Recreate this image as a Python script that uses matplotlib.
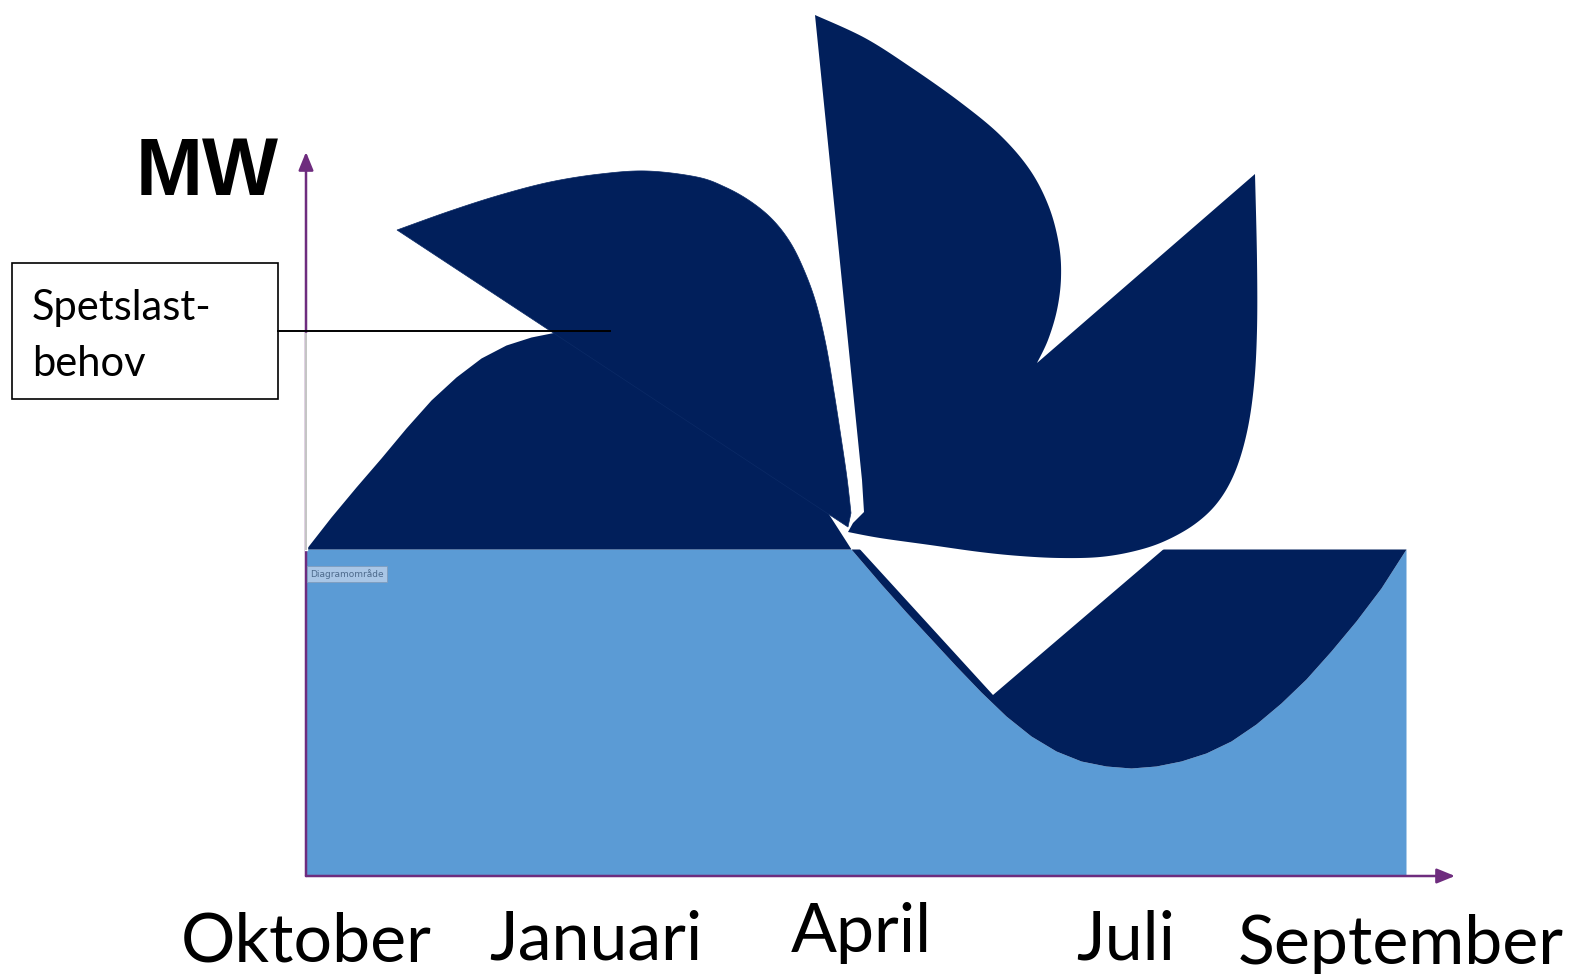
import numpy as np
import matplotlib.pyplot as plt
from matplotlib.patches import Polygon, Rectangle
from matplotlib.transforms import blended_transform_factory

# seasonal demand (months after start of October, MW in chart units)
months = [0.0, 0.25, 0.5, 0.75, 1.0, 1.25, 1.5, 1.75, 2.0, 2.25, 2.5, 2.75,
          3.0, 3.25, 3.5, 3.75, 4.0, 4.25, 4.5, 4.75, 5.0, 5.2, 5.45,
          5.75, 6.0, 6.25, 6.5, 6.75, 7.0, 7.25, 7.5, 7.75, 8.0, 8.25,
          8.5, 8.75, 9.0, 9.25, 9.5, 9.75, 10.0, 10.25, 10.5, 10.75, 11.0]
demand = [3.27, 3.59, 3.89, 4.18, 4.48, 4.76, 4.99, 5.18, 5.31, 5.39, 5.44, 5.48,
          5.50, 5.50, 5.47, 5.38, 5.22, 5.00, 4.72, 4.38, 3.99, 3.66, 3.27,
          2.92, 2.64, 2.37, 2.10, 1.84, 1.60, 1.40, 1.25, 1.15, 1.10, 1.08,
          1.10, 1.15, 1.23, 1.35, 1.52, 1.73, 1.97, 2.25, 2.55, 2.88, 3.27]
base_load = 3.27

month_labels = ["Oktober", "Januari", "April", "Juli", "September"]
label_pos = [0.0, 2.9, 5.55, 8.2, 10.95]

NAVY = "#011F5B"
LIGHT = "#5B9BD5"
PURPLE = "#6E2C7E"
W, H = 1575, 974


def px_rect(l, t, r, b):
    return [l / W, 1 - b / H, (r - l) / W, (b - t) / H]


def smooth(pts, n=16):
    # catmull-rom through the outline points of the logo
    pts = np.asarray(pts, float)
    p = np.vstack([pts[0], pts, pts[-1]])
    out = []
    t = np.linspace(0, 1, n, endpoint=False)[:, None]
    for i in range(1, len(p) - 2):
        p0, p1, p2, p3 = p[i - 1], p[i], p[i + 1], p[i + 2]
        out.append(0.5 * (2 * p1 + (-p0 + p2) * t
                          + (2 * p0 - 5 * p1 + 4 * p2 - p3) * t ** 2
                          + (-p0 + 3 * p1 - 3 * p2 + p3) * t ** 3))
    out.append(pts[-1:])
    return np.vstack(out)


fig = plt.figure(figsize=(W / 100, H / 100), dpi=100)

ax = fig.add_axes(px_rect(306, 152, 1455, 876))
ax.set_xlim(0, 11.49)
ax.set_ylim(0, 7.24)
for s in ax.spines.values():
    s.set_visible(False)
ax.set_xticks([])
ax.set_yticks([])
ax.patch.set_alpha(0)

m = np.array(months)
d = np.array(demand)
ax.fill_between(m, 0, np.minimum(d, base_load), color=LIGHT, lw=0)
ax.fill_between(m, d, base_load, color=NAVY, lw=0)

arrow = dict(arrowstyle="-|>,head_length=1.1,head_width=0.45", color=PURPLE,
             lw=1.8, shrinkA=0, shrinkB=0, mutation_scale=10)
ax.annotate("", xy=(1, 0), xytext=(0, 0), xycoords="axes fraction",
            arrowprops=arrow, annotation_clip=False)
ax.annotate("", xy=(0, 1), xytext=(0, 0), xycoords="axes fraction",
            arrowprops=arrow, annotation_clip=False)

trans = blended_transform_factory(ax.transData, fig.transFigure)
label_base = [962, 959, 952, 959, 964]
for lab, x, b in zip(month_labels, label_pos, label_base):
    ax.text(x, 1 - b / H, lab, transform=trans, ha="center", va="baseline",
            fontsize=49, family="Lato", clip_on=False)

fig.text(136 / W, 1 - 195 / H, "MW", fontsize=58, fontweight="bold",
         family="Liberation Sans", ha="left", va="baseline")

# logo pasted over the chart
ov = fig.add_axes([0, 0, 1, 1])
ov.set_xlim(0, W)
ov.set_ylim(H, 0)
ov.axis("off")
ov.patch.set_alpha(0)

ov.add_patch(Polygon([(856, 540), (856, 545), (993, 695), (1165, 548), (1165, 540)],
                     closed=True, fc="white", ec="none"))

left_blade = np.vstack([[(397, 230), (848, 527)],
                        smooth([(851, 513), (847, 478), (841, 437), (834, 392), (826, 345),
                                (816, 303), (804, 270), (790, 242), (772, 219), (750, 201),
                                (725, 187), (697, 177), (647, 171), (600, 174), (550, 182),
                                (500, 195), (450, 211), (397, 230)])])
ov.add_patch(Polygon(left_blade, closed=True, fc=NAVY, ec="#0b2a66", lw=0.5))

right_blades = np.vstack([[(815, 15), (862, 480), (864, 512), (853, 523)],
                          smooth([(848, 532), (880, 538), (930, 545), (980, 552), (1020, 556),
                                  (1060, 558), (1100, 557), (1135, 551), (1165, 541),
                                  (1195, 524), (1218, 502), (1235, 472), (1247, 432),
                                  (1254, 385), (1257, 330), (1257, 260), (1255, 174)]),
                          smooth([(1037, 363), (1048, 340), (1057, 310), (1061, 278),
                                  (1059, 245), (1049, 207), (1030, 170), (1000, 135),
                                  (960, 102), (912, 68), (865, 38), (815, 15)])])
ov.add_patch(Polygon(right_blades, closed=True, fc=NAVY, ec="none"))

# grey piece of the value axis and the callout
ov.plot([306, 306], [334, 549], color="white", lw=2.4)
ov.plot([306, 306], [334, 549], color="#c4c4c4", lw=1.4)
ov.plot([278, 610], [331, 331], color="black", lw=1.4)
ov.add_patch(Rectangle((12, 263), 266, 136, fill=False, ec="black", lw=1.2))
ov.text(32, 320, "Spetslast-", fontsize=30, family="Lato", va="baseline")
ov.text(32, 376, "behov", fontsize=30, family="Lato", va="baseline")
ov.text(310, 577, "Diagramområde", fontsize=6.5, color="#4d6a8c", va="baseline",
        bbox=dict(boxstyle="square,pad=0.35", fc="#a9c6e6", ec="#7f9cbd", lw=0.6))

fig.savefig("out.png", dpi=100)
